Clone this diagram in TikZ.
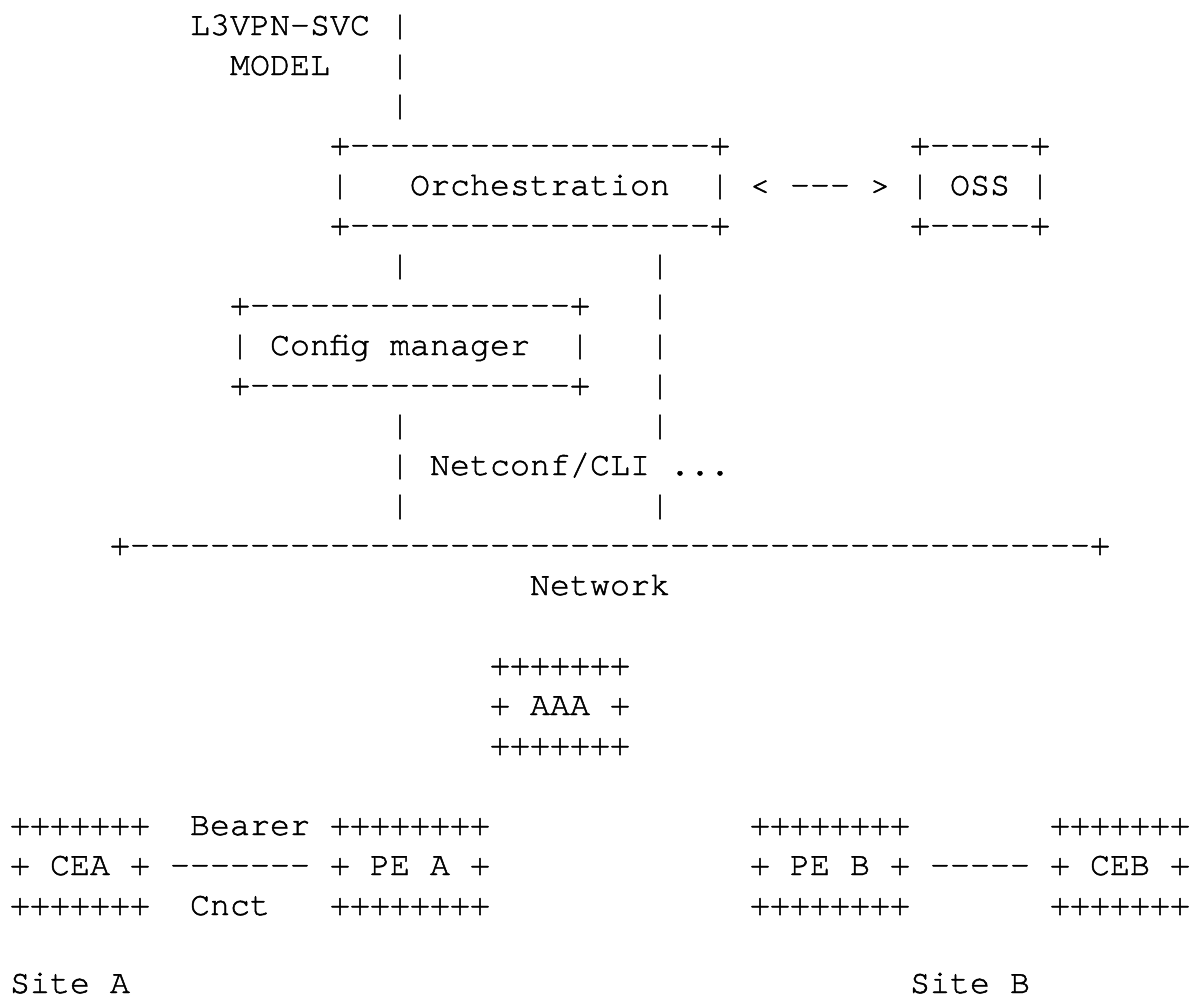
\documentclass[tikz,border=0pt]{standalone}
\usepackage{fontspec}
\newfontfamily\courfont[Ligatures=ResetAll,FakeBold=1.4,WordSpace={1,0,0}]{texgyrecursor-regular.otf}
\tikzset{asc/.style={font=\courfont\fontsize{16.667pt}{20pt}\selectfont, inner sep=0pt, outer sep=0pt, anchor=base west, text=black}}
\newcommand\tk[4]{\node[asc] (#1) at ({10+20*(#2)},{35+40*(#3)}) {#4};}
\newcommand\dsh[1]{\foreach \k in {1,...,#1}{-}}
\newcommand\ws{\hspace*{10pt}}
\begin{document}
\begin{tikzpicture}[x=0.5pt,y=-0.5pt]
\useasboundingbox (0,0) rectangle (1196,998);
% top label
\tk{svc}{9}{0}{L3VPN-SVC}
\tk{v0}{19}{0}{|}
\tk{model}{11}{1}{MODEL}
\tk{v1}{19}{1}{|}
\tk{v2}{19}{2}{|}
% orchestration + OSS
\tk{orchT}{16}{3}{+\dsh{18}+}
\tk{ossT}{45}{3}{+\dsh{5}+}
\tk{orchL}{16}{4}{|}
\tk{orch}{20}{4}{Orchestration}
\tk{orchR}{35}{4}{|}
\tk{lt}{37}{4}{<}
\tk{dd}{39}{4}{\dsh{3}}
\tk{gt}{43}{4}{>}
\tk{ossL}{45}{4}{|}
\tk{oss}{47}{4}{OSS}
\tk{ossR}{51}{4}{|}
\tk{orchB}{16}{5}{+\dsh{18}+}
\tk{ossB}{45}{5}{+\dsh{5}+}
% links
\tk{a6}{19}{6}{|}
\tk{b6}{32}{6}{|}
% config manager
\tk{cfgT}{11}{7}{+\dsh{16}+}
\tk{b7}{32}{7}{|}
\tk{cfgL}{11}{8}{|}
\tk{cfg}{13}{8}{Config\ws manager}
\tk{cfgR}{28}{8}{|}
\tk{b8}{32}{8}{|}
\tk{cfgB}{11}{9}{+\dsh{16}+}
\tk{b9}{32}{9}{|}
\tk{a10}{19}{10}{|}
\tk{b10}{32}{10}{|}
\tk{a11}{19}{11}{|}
\tk{netconf}{21}{11}{Netconf/CLI}
\tk{dots}{33}{11}{...}
\tk{a12}{19}{12}{|}
\tk{b12}{32}{12}{|}
% network
\tk{net}{5}{13}{+\dsh{48}+}
\tk{network}{26}{14}{Network}
% AAA
\tk{aaaT}{24}{16}{+++++++}
\tk{aaaL}{24}{17}{+}
\tk{aaa}{26}{17}{AAA}
\tk{aaaR}{30}{17}{+}
\tk{aaaB}{24}{18}{+++++++}
% bottom row
\tk{ceaT}{0}{20}{+++++++}
\tk{bearer}{9}{20}{Bearer}
\tk{peaT}{16}{20}{++++++++}
\tk{pebT}{37}{20}{++++++++}
\tk{cebT}{52}{20}{+++++++}
\tk{ceaL}{0}{21}{+}
\tk{cea}{2}{21}{CEA}
\tk{ceaR}{6}{21}{+}
\tk{lnA}{8}{21}{\dsh{7}}
\tk{peaL}{16}{21}{+}
\tk{pea}{18}{21}{PE\ws A}
\tk{peaR}{23}{21}{+}
\tk{pebL}{37}{21}{+}
\tk{peb}{39}{21}{PE\ws B}
\tk{pebR}{44}{21}{+}
\tk{lnB}{46}{21}{\dsh{5}}
\tk{cebL}{52}{21}{+}
\tk{ceb}{54}{21}{CEB}
\tk{cebR}{58}{21}{+}
\tk{ceaB}{0}{22}{+++++++}
\tk{cnct}{9}{22}{Cnct}
\tk{peaB}{16}{22}{++++++++}
\tk{pebB}{37}{22}{++++++++}
\tk{cebB}{52}{22}{+++++++}
\node[asc] (siteA) at (10,993) {Site\ws A};
\node[asc] (siteB) at (910,993) {Site\ws B};
\end{tikzpicture}
\end{document}
